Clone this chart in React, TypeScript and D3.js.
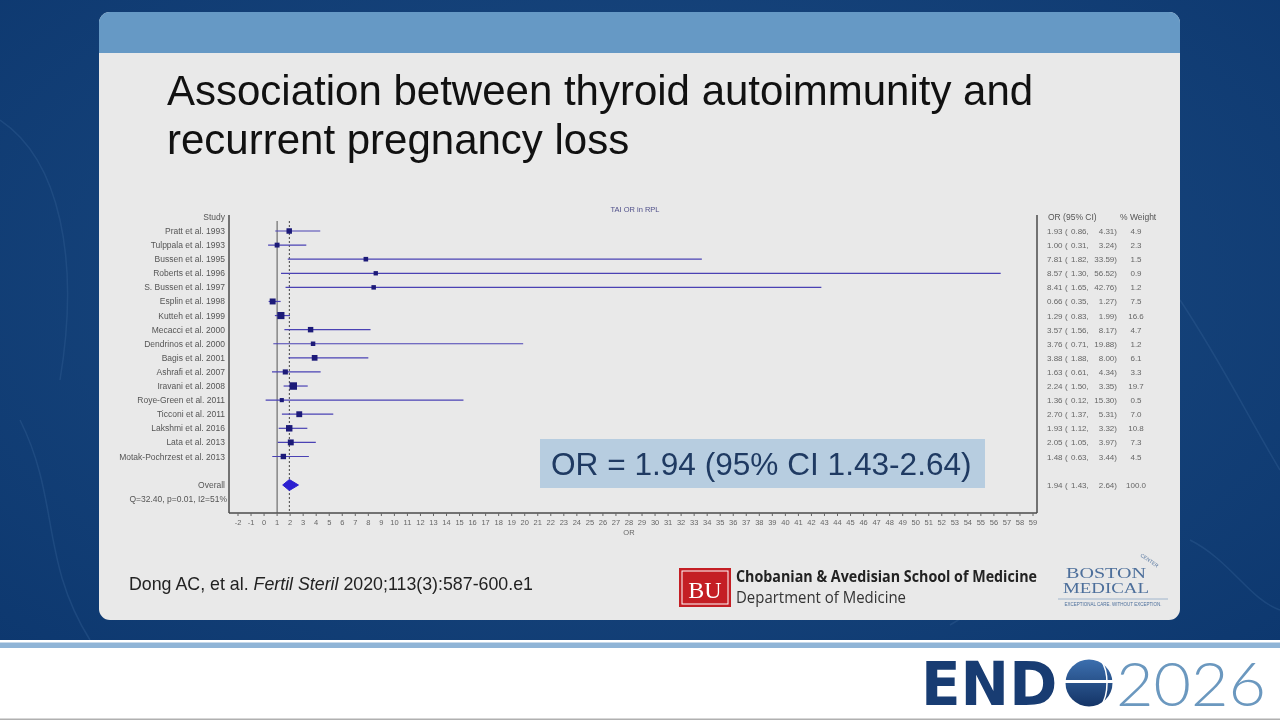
import * as d3 from "d3";

const studies = [
  "Pratt et al. 1993",
  "Tulppala et al. 1993",
  "Bussen et al. 1995",
  "Roberts et al. 1996",
  "S. Bussen et al. 1997",
  "Esplin et al. 1998",
  "Kutteh et al. 1999",
  "Mecacci et al. 2000",
  "Dendrinos et al. 2000",
  "Bagis et al. 2001",
  "Ashrafi et al. 2007",
  "Iravani et al. 2008",
  "Roye-Green et al. 2011",
  "Ticconi et al. 2011",
  "Lakshmi et al. 2016",
  "Lata et al. 2013",
  "Motak-Pochrzest et al. 2013",
];
const orValues = [1.93, 1.0, 7.81, 8.57, 8.41, 0.66, 1.29, 3.57, 3.76, 3.88, 1.63, 2.24, 1.36, 2.7, 1.93, 2.05, 1.48];
const lowerCI = [0.86, 0.31, 1.82, 1.3, 1.65, 0.35, 0.83, 1.56, 0.71, 1.88, 0.61, 1.5, 0.12, 1.37, 1.12, 1.05, 0.63];
const upperCI = [4.31, 3.24, 33.59, 56.52, 42.76, 1.27, 1.99, 8.17, 19.88, 8.0, 4.34, 3.35, 15.3, 5.31, 3.32, 3.97, 3.44];
const weights = [4.9, 2.3, 1.5, 0.9, 1.2, 7.5, 16.6, 4.7, 1.2, 6.1, 3.3, 19.7, 0.5, 7.0, 10.8, 7.3, 4.5];
const overall = { or: 1.94, lo: 1.43, hi: 2.64, w: 100.0 };
const xTicks = d3.range(-2, 60);

const fmt = (v: number) => v.toFixed(2);

// one row of the right-hand OR (95% CI) / % Weight columns
function CiText({ cy, est, lo, hi, w }: { cy: number; est: number; lo: number; hi: number; w: number }) {
  const fs = 8;
  const c = "#666";
  return (
    <g fontSize={fs} fill={c}>
      <text x={1047} y={cy + 3}>{fmt(est)}</text>
      <text x={1065} y={cy + 3}>(</text>
      <text x={1071} y={cy + 3}>{fmt(lo)},</text>
      <text x={1117} y={cy + 3} textAnchor="end">{fmt(hi)})</text>
      <text x={1136} y={cy + 3} textAnchor="middle">{w.toFixed(1)}</text>
    </g>
  );
}

export default function App() {
  const x = d3.scaleLinear().domain([-2, 59]).range([238, 1033]);
  const y = d3.scaleLinear().domain([0, 16]).range([231, 456.5]);
  const box = d3.scaleSqrt().domain([0, 20]).range([3.5, 7.5]);
  const yOverall = 485;
  const axisY = 513;
  const font = "Liberation Sans, Arial, sans-serif";
  const lineColor = "#4a42b4";

  const diamond = d3.line()([
    [x(overall.lo), yOverall],
    [x(overall.or), yOverall - 5.5],
    [x(overall.hi), yOverall],
    [x(overall.or), yOverall + 5.5],
  ]) + "Z";

  return (
    <svg width={1280} height={720} style={{ position: "fixed", left: 0, top: 0 }} fontFamily={font}>
      <defs>
        <radialGradient id="bg" cx="0.5" cy="0.4" r="0.8">
          <stop offset="0" stopColor="#1d4d85" />
          <stop offset="1" stopColor="#0b356c" />
        </radialGradient>
        <linearGradient id="globe" x1="0" y1="0" x2="0" y2="1">
          <stop offset="0" stopColor="#3c6fae" />
          <stop offset="1" stopColor="#143466" />
        </linearGradient>
      </defs>
      <rect width={1280} height={720} fill="url(#bg)" />
      <g fill="none" stroke="#2e5a90" strokeOpacity={0.45} strokeWidth={1.5}>
        <path d="M0,120 C60,160 80,260 60,380" />
        <path d="M20,420 C60,500 40,560 90,640" />
        <path d="M1180,300 C1220,360 1250,420 1280,470" />
        <path d="M1190,540 C1230,560 1250,600 1280,610" />
        <path d="M950,625 C990,600 1020,585 1070,560" />
      </g>

      {/* bottom banner */}
      <rect x={0} y={640} width={1280} height={80} fill="#ffffff" />
      <rect x={0} y={642.5} width={1280} height={5.5} fill="#8fb4d6" />
      <rect x={0} y={718.5} width={1280} height={1.5} fill="#b0b0b0" />
      <g transform="translate(921,705) scale(1,1.05)">
        <text x={0} y={0} fontSize={58} fontWeight="bold" fill="#183c72" fontFamily="DejaVu Sans, sans-serif">END</text>
      </g>
      <circle cx={1089} cy={683} r={23.5} fill="url(#globe)" />
      <rect x={1064} y={680} width={50} height={3} fill="#ffffff" />
      <path d="M1101,660 C1109,672 1109,694 1101,706" stroke="#ffffff" strokeWidth={1.5} fill="none" />
      <text x={1116} y={706} fontSize={62} fontWeight={300} fill="#6b98bf" fontFamily="Lato, sans-serif" textLength={150} lengthAdjust="spacingAndGlyphs">2026</text>

      {/* slide card */}
      <rect x={99} y={12} width={1081} height={608} rx={11} fill="#e9e9e9" />
      <path d="M99,53 V23 A11,11 0 0 1 110,12 H1169 A11,11 0 0 1 1180,23 V53 Z" fill="#6699c5" />

      <text fontSize={42} fill="#111">
        <tspan x={167} y={105}>Association between thyroid autoimmunity and</tspan>
        <tspan x={167} y={154}>recurrent pregnancy loss</tspan>
      </text>

      {/* forest plot */}
      <text x={635} y={212} fontSize={7.5} fill="#50508a" textAnchor="middle">TAI OR in RPL</text>
      <text x={225} y={220} fontSize={8.5} fill="#555" textAnchor="end">Study</text>
      <text x={1048} y={220} fontSize={8.5} fill="#555">OR (95% CI)</text>
      <text x={1120} y={220} fontSize={8.5} fill="#555">% Weight</text>

      <g stroke="#4a4a4a" strokeWidth={1.5} fill="none">
        <line x1={229} x2={229} y1={215} y2={axisY} />
        <line x1={1037} x2={1037} y1={215} y2={axisY} />
        <line x1={229} x2={1037} y1={axisY} y2={axisY} />
      </g>
      <line x1={x(1)} x2={x(1)} y1={221} y2={axisY} stroke="#555" strokeWidth={1} />
      <line x1={x(overall.or)} x2={x(overall.or)} y1={221} y2={axisY} stroke="#444" strokeWidth={1} strokeDasharray="2,2" />

      {xTicks.map((t) => (
        <g key={t} transform={`translate(${x(t)},${axisY})`}>
          <line y1={0} y2={3} stroke="#666" />
          <text y={12} fontSize={7.5} fill="#666" textAnchor="middle">{t}</text>
        </g>
      ))}
      <text x={x(28)} y={535} fontSize={7.5} fill="#666" textAnchor="middle">OR</text>

      {studies.map((s, i) => {
        const cy = y(i);
        const sz = box(weights[i]);
        return (
          <g key={s}>
            <text x={225} y={cy + 3} fontSize={8.5} fill="#555" textAnchor="end">{s}</text>
            <line x1={x(lowerCI[i])} x2={x(upperCI[i])} y1={cy} y2={cy} stroke={lineColor} strokeWidth={1.2} />
            <rect x={x(orValues[i]) - sz / 2} y={cy - sz / 2} width={sz} height={sz} fill="#1c1a78" />
            <CiText cy={cy} est={orValues[i]} lo={lowerCI[i]} hi={upperCI[i]} w={weights[i]} />
          </g>
        );
      })}

      <text x={225} y={yOverall + 3} fontSize={8.5} fill="#555" textAnchor="end">Overall</text>
      <text x={227} y={502} fontSize={8.5} fill="#555" textAnchor="end">Q=32.40, p=0.01, I2=51%</text>
      <path d={diamond} fill="#2b1fd0" stroke="#2b1fd0" strokeWidth={1} />
      <CiText cy={yOverall} est={overall.or} lo={overall.lo} hi={overall.hi} w={overall.w} />

      {/* callout */}
      <rect x={540} y={439} width={445} height={49} fill="#b7cde0" />
      <text x={551} y={475} fontSize={31.6} fill="#1f3a62">OR = 1.94 (95% CI 1.43-2.64)</text>

      {/* citation */}
      <text x={129} y={590} fontSize={17.8} fill="#222">
        Dong AC, et al. <tspan fontStyle="italic">Fertil Steril</tspan> 2020;113(3):587-600.e1
      </text>

      {/* BU logo */}
      <rect x={679} y={568} width={52} height={39} fill="#c41e24" />
      <rect x={682} y={571} width={46} height={33} fill="none" stroke="#ffffff" strokeWidth={1} />
      <text x={705} y={598} fontSize={24} fill="#ffffff" textAnchor="middle" fontFamily="Liberation Serif, serif">BU</text>
      <text x={736} y={582} fontSize={15.5} fontWeight="bold" fill="#222" fontFamily="Open Sans, sans-serif" textLength={301} lengthAdjust="spacingAndGlyphs">Chobanian &amp; Avedisian School of Medicine</text>
      <text x={736} y={603} fontSize={15.5} fill="#333" fontFamily="Open Sans, sans-serif" textLength={170} lengthAdjust="spacingAndGlyphs">Department of Medicine</text>

      {/* Boston Medical logo */}
      <text x={1066} y={578} fontSize={15.5} fill="#4d6f9b" fontFamily="Liberation Serif, serif" textLength={80} lengthAdjust="spacingAndGlyphs">BOSTON</text>
      <text x={1063} y={593} fontSize={15.5} fill="#4d6f9b" fontFamily="Liberation Serif, serif" textLength={86} lengthAdjust="spacingAndGlyphs">MEDICAL</text>
      <text x={1140} y={556} fontSize={5} fill="#4d6f9b" transform="rotate(35 1140 556)">CENTER</text>
      <line x1={1058} x2={1168} y1={599} y2={599} stroke="#8ea7c4" strokeWidth={0.8} />
      <text x={1113} y={606} fontSize={4.5} fill="#4d6f9b" textAnchor="middle">EXCEPTIONAL CARE. WITHOUT EXCEPTION.</text>
    </svg>
  );
}
